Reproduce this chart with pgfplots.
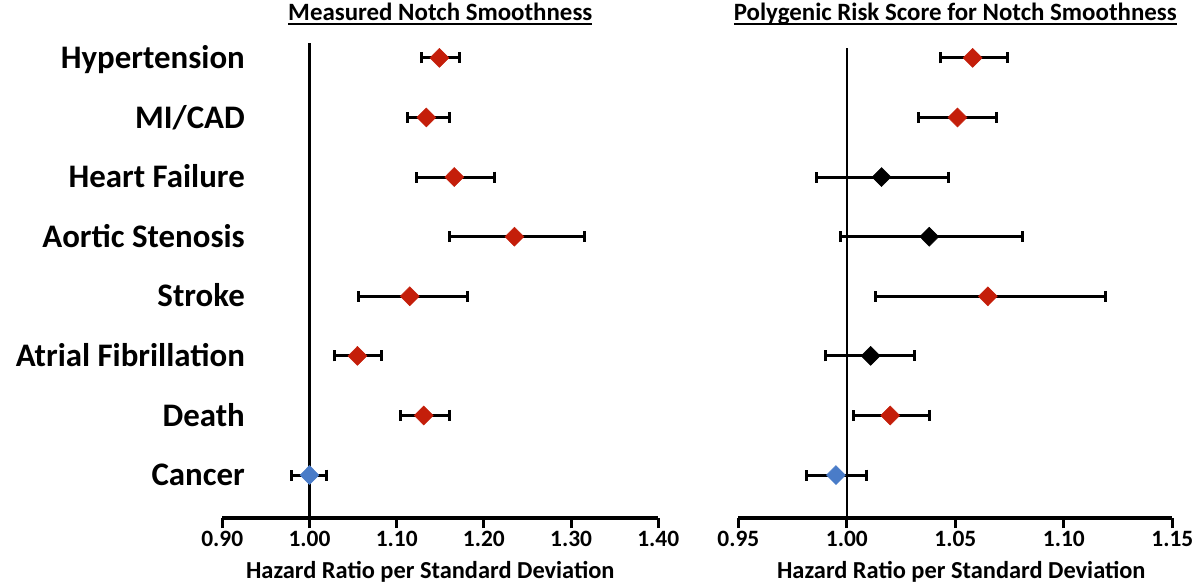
\documentclass[border=0pt]{standalone}
\usepackage{fontspec}
\setmainfont{Carlito}
\usepackage{pgfplots}
\usepackage{pgfplotstable}
\pgfplotsset{compat=1.18}
\definecolor{hrred}{HTML}{C41E0A}
\definecolor{hrblue}{HTML}{4A7CC8}

% y = row (8 = Hypertension ... 1 = Cancer), m = hazard ratio, lo/hi = CI
\pgfplotstableread{
y m lo hi
8 1.149 1.128 1.172
7 1.134 1.112 1.160
6 1.166 1.123 1.212
5 1.235 1.160 1.315
4 1.115 1.056 1.181
3 1.055 1.029 1.082
2 1.131 1.104 1.160
}\leftred
\pgfplotstableread{
y m lo hi
1 1.000 0.979 1.019
}\leftblue
\pgfplotstableread{
y m lo hi
8 1.058 1.043 1.074
7 1.051 1.033 1.069
4 1.065 1.013 1.119
2 1.020 1.003 1.038
}\rightred
\pgfplotstableread{
y m lo hi
6 1.016 0.986 1.047
5 1.038 0.997 1.081
3 1.011 0.990 1.031
}\rightblack
\pgfplotstableread{
y m lo hi
1 0.995 0.9815 1.009
}\rightblue

\newcommand\ulx[1]{\setbox0\hbox{#1}\rlap{\rule[-4.5bp]{\wd0}{1.6bp}}\box0}

\pgfplotsset{
 forest/.style={
  scale only axis, height=478bp, ymin=0.28, ymax=8.3, clip=false,
  axis x line*=bottom, axis y line*=left, y axis line style={draw=none},
  x axis line style={line width=3.6bp, black},
  xtick style={line width=3bp, black}, ytick style={draw=none},
  tick align=outside, major tick length=10bp,
  xticklabel={\textbf{\pgfmathprintnumber[fixed, fixed zerofill, precision=2, assume math mode=true]{\tick}}},
  xticklabel style={font=\fontsize{23.5}{24}\selectfont\bfseries},
  /pgf/number format/.cd, fixed, fixed zerofill, precision=2, assume math mode=true, /pgfplots/.cd,
  title style={font=\fontsize{25}{26}\selectfont\bfseries, at={(0.5,1)}, anchor=center, yshift=20bp},
  xlabel style={font=\fontsize{24.5}{25}\selectfont\bfseries, at={(0.5,0)}, anchor=center, yshift=-54bp},
 },
 ebar/.style={only marks, color=#1, mark=diamond*, mark size=9.5bp,
  mark options={xscale=1.33, draw=#1, fill=#1, line width=0.5bp},
  error bars/.cd, x dir=both, x explicit,
  error bar style={line width=3bp, black},
  error mark options={rotate=90, line width=3bp, black, mark size=5.5bp}},
 refline/.style={black, line width=2.6bp, no marks},
}

\newcommand\fp[2]{\addplot[ebar=#1] table[x=m, y=y, x error plus expr=\thisrow{hi}-\thisrow{m}, x error minus expr=\thisrow{m}-\thisrow{lo}] {#2};}

\begin{document}
\begin{tikzpicture}
\path[use as bounding box] (0,0) rectangle (1198bp,-586bp);
\begin{axis}[forest, at={(222.3bp,-518bp)}, anchor=south west, width=436bp,
  xmin=0.9, xmax=1.4, xtick={0.9,1,1.1,1.2,1.3,1.4},
  ytick={1,2,3,4,5,6,7,8},
  yticklabels={Cancer,Death,Atrial Fibrillation,Stroke,Aortic Stenosis,Heart Failure,MI/CAD,Hypertension},
  yticklabel style={font=\fontsize{33}{34}\selectfont\bfseries, anchor=base east, inner sep=0pt, xshift=32.7bp, yshift=-10.6bp},
  title={\ulx{Measured Notch Smoothness}},
  xlabel={Hazard Ratio per Standard Deviation}, xlabel style={xshift=-10bp}]
\addplot[refline] coordinates {(1,0.28) (1,8.25)};
\fp{hrred}{\leftred}
\fp{hrblue}{\leftblue}
\end{axis}
\begin{axis}[forest, at={(738.3bp,-518bp)}, anchor=south west, width=434bp,
  xmin=0.95, xmax=1.15, xtick={0.95,1,1.05,1.1,1.15}, ytick=\empty,
  title={\ulx{Polygenic Risk Score for Notch Smoothness}},
  xlabel={Hazard Ratio per Standard Deviation}, xlabel style={xshift=6bp}]
\addplot[refline] coordinates {(1,0.28) (1,8.17)};
\fp{hrred}{\rightred}
\fp{black}{\rightblack}
\fp{hrblue}{\rightblue}
\end{axis}
\end{tikzpicture}
\end{document}
